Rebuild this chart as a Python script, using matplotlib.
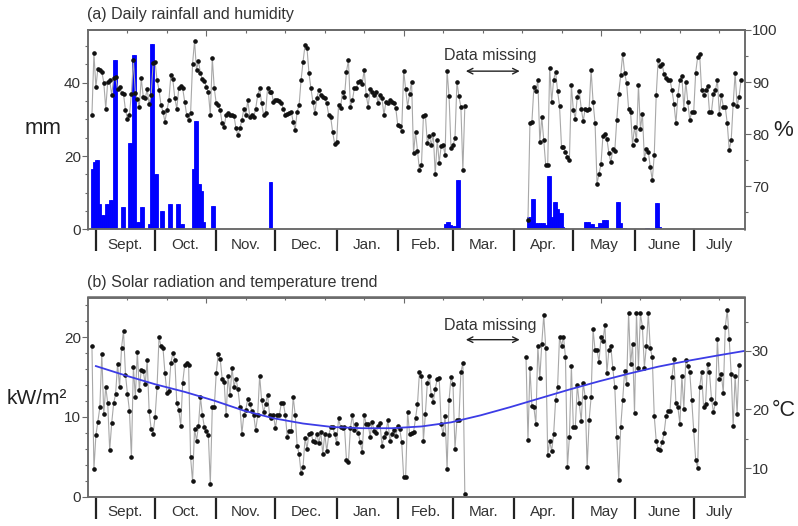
import numpy as np
import matplotlib
matplotlib.use("Agg")
import matplotlib.pyplot as plt
from matplotlib.ticker import MultipleLocator

plt.rcParams['font.family'] = ['Liberation Sans', 'DejaVu Sans']

# day 0 = 1 Sept, data run from 30 Aug to 26 July (gap in March)
month_names = ['Sept.', 'Oct.', 'Nov.', 'Dec.', 'Jan.', 'Feb.', 'Mar.', 'Apr.', 'May', 'June', 'July']
month_start = [0, 30, 61, 91, 122, 153, 181, 212, 242, 273, 303]
x_end = 329

# rainfall, mm (days not listed = 0)
rain_day = [-2, -1, 0, 1, 2, 3, 4, 5, 6, 7, 8, 9, 10, 13, 14, 17, 18, 19, 20, 21, 22, 23, 24,
            27, 28, 29, 30, 31, 33, 34, 37, 38, 41, 42, 43, 44, 49, 50, 51, 52, 53, 54, 55,
            59, 60, 88, 89,
            175, 176, 177, 178, 179, 180, 181, 182, 183, 184, 185, 186,
            219, 220, 221, 222, 223, 224, 225, 226, 227, 228, 229, 230, 231, 232, 233, 234,
            235, 236, 237, 238, 248, 249, 250, 251, 252, 253, 254, 255, 256, 257, 258, 259,
            264, 265, 266, 267, 268, 279, 280, 284, 285, 286]
rain_mm = [16.5, 18.5, 19.0, 19.0, 7.0, 4.0, 4.0, 7.0, 7.0, 8.0, 8.0, 46.0, 46.0, 6.0, 6.0,
           23.5, 23.5, 47.5, 47.5, 2.0, 2.0, 6.0, 6.0,
           1.5, 50.5, 50.5, 15.0, 15.0, 5.0, 5.0, 7.0, 7.0, 7.0, 7.0, 1.5, 1.5,
           16.5, 29.5, 29.5, 12.5, 12.5, 10.5, 2.0, 6.5, 6.5, 13.0, 13.0,
           0.4, 0.4, 1.5, 2.0, 2.0, 1.2, 1.0, 1.0, 13.5, 13.5, 0.5, 0.3,
           3.3, 3.3, 8.3, 8.3, 1.8, 1.8, 1.8, 1.8, 1.8, 1.2, 14.5, 14.5, 3.3, 7.5, 7.5, 5.6,
           4.4, 4.4, 0.6, 0.3, 2.0, 2.0, 2.0, 1.5, 1.5, 0.6, 0.6, 1.7, 1.7, 2.5, 2.5, 2.5,
           7.5, 7.5, 1.8, 0.3, 0.3, 0.3, 0.3, 7.3, 7.3, 0.8]
rain_range = [(-2, 187), (218, 295)]

# relative humidity, %  (30 Aug - 7 Mar, then 7 Apr - 26 July)
hum_start_a = -2
hum_a = [83.7, 95.5, 89.0, 92.6, 92.3, 92.0, 89.9, 84.9, 90.1, 90.4, 87.5, 90.7, 91.0, 88.6, 89.0, 88.0,
         87.7, 84.6, 83.0, 83.7, 87.8, 94.2, 88.0, 86.7, 85.3, 90.7, 87.2, 86.9, 88.6, 85.8, 87.5, 93.6,
         93.9, 90.4, 88.5, 85.6, 84.3, 82.4, 84.6, 86.5, 91.3, 90.5, 86.9, 84.9, 88.8, 89.2, 88.8, 86.2,
         83.7, 82.7, 84.0, 93.5, 97.9, 92.3, 94.0, 91.7, 90.5, 90.3, 89.1, 88.1, 83.7, 94.6, 88.8,
         85.9, 85.6, 84.6, 82.1, 81.4, 83.7, 84.0, 83.7, 83.7, 83.5, 81.1, 79.8, 81.1, 82.7, 84.9,
         83.7, 86.5, 83.3, 83.7, 83.3, 84.9, 87.5, 88.8, 85.9, 83.7, 84.0, 88.8, 88.1, 88.1, 86.2,
         86.5, 86.5, 86.4, 85.9, 84.9, 83.7, 83.8, 84.0, 84.3, 82.4, 80.8, 84.3, 85.6, 90.4, 93.9,
         97.1, 96.5, 91.7, 88.8, 86.2, 84.0, 86.9, 88.5, 87.5, 87.2, 86.9, 85.9, 83.7, 83.3, 80.4, 78.2,
         78.5, 85.6, 85.1, 88.1, 87.2, 92.0, 94.2, 85.3, 86.5, 88.8, 88.8, 90.1, 90.3, 89.7, 92.4,
         87.5, 85.3, 88.6, 88.1, 87.5, 88.1, 85.9, 87.5, 86.9, 83.7, 86.2, 85.9, 86.5, 86.2, 86.0, 85.0,
         81.7, 81.5, 80.6, 92.2, 88.6, 85.3, 87.8, 90.1, 76.3, 80.5, 76.8, 73.1, 74.0, 83.4, 83.6,
         78.3, 79.6, 78.0, 80.0, 72.3, 78.9, 74.5, 77.7, 77.9, 76.0, 92.2, 87.3, 77.3, 77.9, 79.2,
         90.0, 87.3, 85.2, 73.1, 85.4]
hum_start_b = 219
hum_b = [63.5, 82.2, 82.4, 89.0, 88.2, 90.4, 78.5, 83.3, 78.8, 74.0,
         74.0, 92.8, 86.2, 90.4, 92.0, 88.3, 85.4, 77.6, 77.6, 76.6,
         75.6, 75.1, 89.4, 84.6, 83.0, 87.2, 88.3, 84.9, 82.5, 84.9,
         84.6, 84.9, 92.3, 86.2, 82.1, 70.5, 72.4, 74.2, 79.7, 80.1,
         79.1, 76.4, 74.6, 77.1, 76.8, 82.7, 87.8, 91.3, 95.4, 91.7,
         89.8, 84.9, 84.3, 77.9, 81.4, 78.8, 89.4, 81.0, 83.9, 75.3,
         77.1, 76.6, 73.7, 71.2, 76.0, 87.5, 94.3, 93.0, 93.4, 91.5,
         90.7, 90.4, 90.4, 88.4, 85.8, 82.1, 87.5, 90.4, 91.2, 84.9,
         90.1, 86.2, 82.7, 84.3, 84.3, 91.8, 94.8, 95.4, 88.4, 87.5,
         88.5, 89.2, 84.3, 84.3, 87.7, 88.4, 90.4, 83.9, 87.5, 85.3,
         85.2, 82.1, 77.0, 78.8, 85.8, 91.7, 85.4, 87.2, 90.4]

# solar radiation, kW/m2
sol_start_a = -2
sol_a = [18.9, 3.4, 7.7, 9.4, 11.2, 17.9, 10.4, 13.8, 11.7, 5.8,
         9.2, 11.7, 12.9, 16.7, 13.7, 18.7, 20.8, 15.3, 12.9, 10.8,
         4.9, 16.3, 12.5, 18.2, 13.4, 15.9, 15.8, 14.1, 17.1, 10.7,
         8.5, 7.9, 10.0, 13.8, 20.0, 18.9, 18.7, 15.5, 13.0, 13.3,
         16.8, 18.0, 17.2, 11.7, 10.9, 8.9, 14.3, 16.5, 16.8, 16.5,
         4.9, 1.9, 8.5, 7.0, 8.9, 12.5, 10.2, 8.7, 8.2, 7.7,
         1.6, 11.2, 11.2, 15.5, 17.9, 17.3, 14.8, 14.4, 10.2, 15.2,
         12.7, 16.2, 13.8, 14.8, 13.5, 11.3, 7.9, 10.3, 10.9, 12.3,
         11.6, 10.8, 10.2, 8.3, 10.2, 15.2, 12.1, 10.6, 11.6, 12.8,
         10.3, 9.8, 10.2, 8.6, 10.3, 10.3, 11.7, 11.7, 10.3, 7.5,
         8.2, 8.2, 12.5, 10.3, 6.4, 5.3, 2.9, 3.7, 7.3, 6.0,
         7.9, 8.0, 7.0, 6.8, 7.9, 6.7, 8.1, 5.3, 7.9, 5.7,
         7.7, 8.7, 8.7, 7.9, 6.7, 9.8, 8.7, 8.6, 8.7, 4.6,
         4.3, 8.6, 10.2, 8.3, 9.1, 8.0, 6.8, 5.6, 10.2, 9.1,
         9.1, 7.5, 9.4, 8.2, 8.0, 8.9, 9.2, 6.4, 7.5, 8.0,
         9.6, 7.0, 7.9, 8.3, 7.6, 8.8,
         8.5, 6.8, 2.4, 2.5, 10.6, 7.9, 8.0, 8.1, 9.8, 11.6,
         15.6, 15.2, 7.0, 10.4, 14.3, 15.2, 12.7, 11.9, 13.5, 14.8,
         14.9, 9.1, 7.8, 10.1, 3.4, 12.1, 15.0, 14.1, 6.0, 9.6,
         9.6, 15.6, 16.8, 0.3]
sol_start_b = 218
sol_b = [17.5, 7.1, 16.1, 11.4, 11.2, 9.1, 18.9, 14.9, 19.2, 22.8,
         18.7, 5.2, 7.0, 5.7, 7.8, 12.1, 13.7, 20.1, 18.9, 20.1,
         17.5, 3.7, 7.5, 16.4, 8.7, 8.7, 14.0, 11.7, 9.5, 14.3,
         12.5, 3.7, 9.6, 12.5, 21.0, 18.4, 18.4, 16.9, 20.0, 19.5,
         21.6, 15.5, 18.4, 18.9, 16.1, 13.8, 7.5, 2.1, 8.7, 12.1,
         15.8, 14.1, 23.1, 16.6, 19.2, 10.5, 23.1, 16.2, 23.0, 21.3,
         16.2, 18.9, 23.0, 18.6, 17.5, 10.1, 7.0, 6.0, 5.9, 6.8,
         8.0, 10.1, 10.8, 10.8, 15.0, 17.3, 11.7, 11.2, 9.1, 15.2,
         11.0, 17.2, 16.4, 15.6, 12.1, 8.3, 4.6, 3.6, 13.7, 15.6,
         11.3, 11.6, 16.6, 15.6, 12.3, 10.6, 11.7, 19.8, 14.7, 15.4,
         13.0, 21.3, 23.4, 19.8, 15.4, 8.8, 15.2, 10.4, 16.5]

# temperature trend, deg C
trend_day = [0, 15, 30, 45, 60, 75, 90, 105, 120, 135, 150, 165, 180, 195, 210, 225, 240,
             255, 270, 285, 300, 315, 329]
trend_c = [27.4, 25.8, 24.3, 23.0, 21.5, 19.8, 18.5, 17.6, 17.0, 16.8, 16.8, 17.1, 17.8,
           19.0, 20.4, 21.9, 23.4, 24.8, 26.1, 27.3, 28.3, 29.2, 30.0]

W, H = 798, 526
fig = plt.figure(figsize=(W / 100, H / 100), dpi=100)
ax1 = fig.add_axes([88 / W, 1 - 229.5 / H, 657 / W, 199.5 / H])
ax1r = ax1.twinx()
ax2 = fig.add_axes([88 / W, 1 - 496.5 / H, 657 / W, 199 / H])
ax2r = ax2.twinx()

spine_c = '#6a6a6a'
txt_c = '#333333'

# rainfall bars (dry days drawn too, they give the thin base line)
rain = dict(zip(rain_day, rain_mm))
for a, b in rain_range:
    dd = np.arange(a, b + 1)
    vals = [rain.get(d, 0.0) for d in dd]
    ax1.bar(dd, vals, width=1.0, color='#0000ff', edgecolor='#0000ff', linewidth=0.6)

line_kw = dict(color='#a8a8a8', lw=0.8, marker='o', ms=2.3, mfc='#111111', mec='#111111')
ax1r.plot(np.arange(len(hum_a)) + hum_start_a, hum_a, **line_kw)
ax1r.plot(np.arange(len(hum_b)) + hum_start_b, hum_b, **line_kw)

ax2.plot(np.arange(len(sol_a)) + sol_start_a, sol_a, **line_kw)
ax2.plot(np.arange(len(sol_b)) + sol_start_b, sol_b, **line_kw)
ax2r.plot(trend_day, trend_c, color='#3c3ce6', lw=1.3)

ax1.set_ylim(0, 54.3)
ax1.set_yticks([0, 20, 40])
ax1.yaxis.set_minor_locator(MultipleLocator(5))
ax1r.set_ylim(61.7, 100)
ax1r.set_yticks([70, 80, 90, 100])
ax1r.yaxis.set_minor_locator(MultipleLocator(5))

ax2.set_ylim(0, 25)
ax2.set_yticks([0, 10, 20])
ax2.yaxis.set_minor_locator(MultipleLocator(2))
ax2r.set_ylim(5.15, 39.1)
ax2r.set_yticks([10, 20, 30])
ax2r.yaxis.set_minor_locator(MultipleLocator(5))

mid = [(month_start[i] + (month_start[i + 1] if i + 1 < len(month_start) else x_end)) / 2
       for i in range(len(month_start))]
top_ticks = list(range(16, x_end, 20))
top_major = [56, 156, 256]

for ax, axr in ((ax1, ax1r), (ax2, ax2r)):
    ax.set_xlim(-4, x_end)
    ax.set_xticks(month_start)
    ax.set_xticks(mid, minor=True)
    ax.set_xticklabels([])
    ax.set_xticklabels(month_names, minor=True)
    ax.tick_params(axis='x', which='major', direction='out', length=16, width=1.6,
                   color='#222222', top=False)
    ax.tick_params(axis='x', which='minor', length=0, pad=6, labelsize=11,
                   labelcolor=txt_c, top=False)
    ax.tick_params(axis='y', which='major', direction='out', length=4, width=0.8,
                   color=spine_c, labelsize=11, labelcolor=txt_c, pad=1)
    ax.tick_params(axis='y', which='minor', direction='out', length=2.5, width=0.8, color=spine_c)
    axr.tick_params(axis='y', which='major', direction='out', length=4, width=0.8,
                    color=spine_c, labelsize=11, labelcolor=txt_c, pad=1)
    axr.tick_params(axis='y', which='minor', direction='out', length=2.5, width=0.8, color=spine_c)
    for a in (ax, axr):
        for s in a.spines.values():
            s.set_color(spine_c)
            s.set_linewidth(1.1)
    sec = ax.secondary_xaxis('top')
    sec.set_xticks(top_major)
    sec.set_xticks(top_ticks, minor=True)
    sec.tick_params(which='major', direction='in', length=4, width=0.8, color=spine_c,
                    labeltop=False)
    sec.tick_params(which='minor', direction='in', length=2.5, width=0.8, color=spine_c)
    sec.spines['top'].set_color(spine_c)
    sec.spines['top'].set_linewidth(1.1)

# data gap notes
ax1.annotate('', xy=(187.5, 43.1), xytext=(214.8, 43.1),
             arrowprops=dict(arrowstyle='<->', lw=1.0, color='#222222', shrinkA=0, shrinkB=0))
ax1.text(200, 47.4, 'Data missing', ha='center', va='center', fontsize=11.5, color=txt_c)
ax2.annotate('', xy=(187.5, 19.7), xytext=(214.8, 19.7),
             arrowprops=dict(arrowstyle='<->', lw=1.0, color='#222222', shrinkA=0, shrinkB=0))
ax2.text(200, 21.5, 'Data missing', ha='center', va='center', fontsize=11.5, color=txt_c)

fig.text(87 / W, 1 - 15 / H, '(a) Daily rainfall and humidity', fontsize=11.5,
         ha='left', va='center', color=txt_c)
fig.text(87 / W, 1 - 283 / H, '(b) Solar radiation and temperature trend', fontsize=11.5,
         ha='left', va='center', color=txt_c)
fig.text(43 / W, 1 - 128 / H, 'mm', fontsize=16, ha='center', va='center', color='#222222')
fig.text(783 / W, 1 - 130 / H, '%', fontsize=16, ha='center', va='center', color='#222222')
fig.text(37 / W, 1 - 399 / H, 'kW/m²', fontsize=15, ha='center', va='center', color='#222222')
fig.text(784 / W, 1 - 410 / H, '°C', fontsize=15.5, ha='center', va='center', color='#222222')

fig.savefig('out.png', dpi=100)
